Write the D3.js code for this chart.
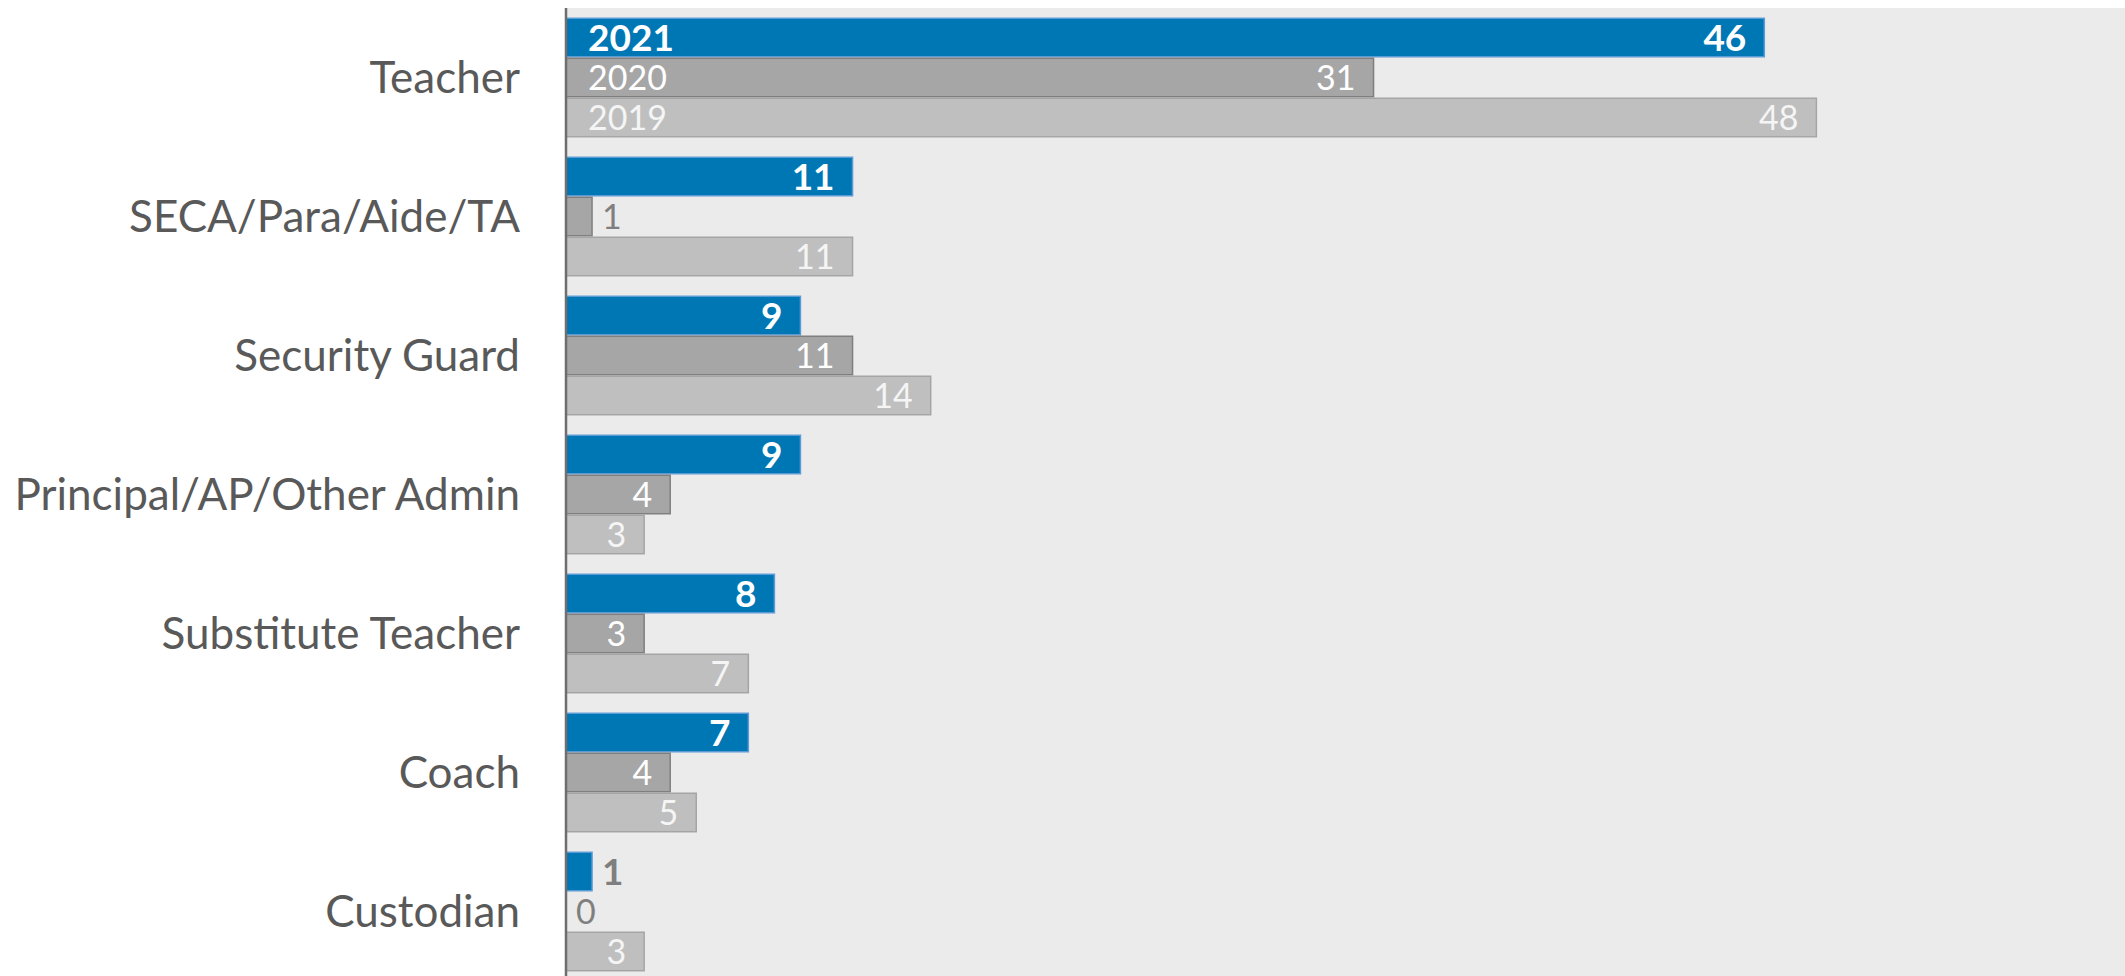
<!DOCTYPE html>
<html><head><meta charset="utf-8">
<script src="https://cdn.jsdelivr.net/npm/d3@7"></script>
<style>html,body{margin:0;padding:0;background:#fff;}svg{display:block;}</style>
</head><body>
<svg id="chart" width="2125" height="976"></svg>
<script>
const categories = ["Teacher","SECA/Para/Aide/TA","Security Guard","Principal/AP/Other Admin","Substitute Teacher","Coach","Custodian"];
const seriesNames = ["2021","2020","2019"];
const values2021 = [46,11,9,9,8,7,1];
const values2020 = [31,1,11,4,3,4,0];
const values2019 = [48,11,14,3,7,5,3];

const seriesValues = [values2021, values2020, values2019];
const fills = ["#0077b5","#a6a6a6","#bfbfbf"];
const strokes = ["#5b9bd5","#7f7f7f","#a5a5a5"];
const weights = ["bold","normal","normal"];
const sizes = [37,34,34];
const outsideColors = ["#7f7f7f","#7f7f7f","#7f7f7f"];
const insideColors = ["#ffffff","#ffffff","#f5f5f5"];

const W = 2125, H = 976;
const x0 = 566;
const svg = d3.select("#chart");

const x = d3.scaleLinear().domain([0,60]).range([x0, 2129]);
const y = d3.scaleBand().domain(categories).range([8, 981]).paddingInner(0.137).paddingOuter(0.0685);
const ys = d3.scaleBand().domain(seriesNames).range([0, y.bandwidth()]);

// plot background
svg.append("rect").attr("x", x0).attr("y", 8).attr("width", W - x0).attr("height", H - 8).attr("fill", "#ebebeb");

const font = "Lato, 'Open Sans', sans-serif";

const g = svg.append("g");
categories.forEach((cat, ci) => {
  seriesNames.forEach((s, si) => {
    const v = seriesValues[si][ci];
    const by = y(cat) + ys(s);
    const bh = ys.bandwidth();
    const bw = x(v) - x(0);
    if (v > 0) {
      g.append("rect")
        .attr("x", x(0)).attr("y", by + 0.75)
        .attr("width", bw).attr("height", bh - 1.5)
        .attr("fill", fills[si]).attr("stroke", strokes[si]).attr("stroke-width", 1.5);
    }
    const inside = v >= 3;
    const fs = sizes[si];
    const t = g.append("text")
      .attr("y", by + bh / 2 + fs * 0.358)
      .attr("font-family", font)
      .attr("font-size", fs)
      .attr("font-weight", weights[si])
      .text(v);
    if (inside) {
      t.attr("x", x(v) - 18).attr("text-anchor", "end").attr("fill", insideColors[si]);
    } else {
      t.attr("x", x(v) + 10).attr("text-anchor", "start").attr("fill", outsideColors[si]);
    }
    if (ci === 0) {
      g.append("text")
        .attr("x", x0 + 22)
        .attr("y", by + bh / 2 + fs * 0.358)
        .attr("font-family", font)
        .attr("font-size", fs)
        .attr("font-weight", weights[si])
        .attr("fill", insideColors[si])
        .text(s);
    }
  });
});

// category axis
const yAxis = d3.axisLeft(y).tickSize(0).tickPadding(0);
const ax = svg.append("g").attr("transform", `translate(${x0},0)`).call(yAxis);
ax.select(".domain").remove();
ax.selectAll("text")
  .attr("x", -(x0 - 520))
  .attr("dy", "0.36em")
  .attr("font-family", font)
  .attr("font-size", 44)
  .attr("fill", "#595959")
  .attr("text-anchor", "end");

// axis line
svg.append("line").attr("x1", x0).attr("x2", x0).attr("y1", 8).attr("y2", H)
  .attr("stroke", "#6e6e6e").attr("stroke-width", 2.5);
</script>
</body></html>
